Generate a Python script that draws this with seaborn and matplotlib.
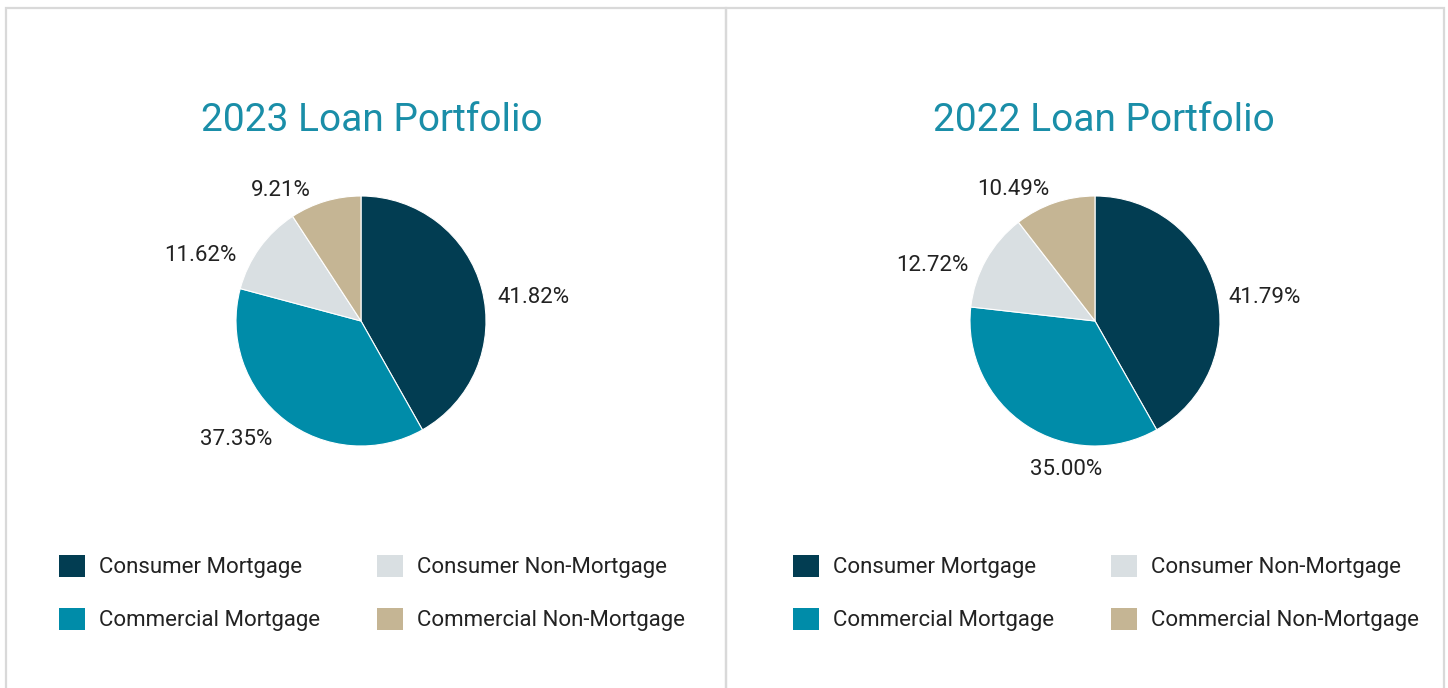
import matplotlib
matplotlib.use("Agg")
import matplotlib.pyplot as plt
import seaborn as sns
from matplotlib.patches import Rectangle, Patch

categories = ["Consumer Mortgage", "Commercial Mortgage", "Consumer Non-Mortgage", "Commercial Non-Mortgage"]
values_2023 = [41.82, 37.35, 11.62, 9.21]
values_2022 = [41.79, 35.00, 12.72, 10.49]
titles = ["2023 Loan Portfolio", "2022 Loan Portfolio"]
colors = ["#023d52", "#008ca9", "#d9dfe2", "#c5b594"]

# label placement (in pie-radius units, relative to pie centre) - layout only
label_pos_2023 = [(1.376, 0.186), (-1.0, -0.95), (-1.288, 0.526), (-0.64, 1.046)]
label_pos_2022 = [(1.36, 0.186), (-0.232, -1.19), (-1.304, 0.446), (-0.656, 1.054)]

sns.set_theme(style="white")
plt.rcParams["font.family"] = ["Roboto", "DejaVu Sans"]

W, H = 1448, 688
fig = plt.figure(figsize=(W / 100, H / 100), dpi=100)
fig.patch.set_facecolor("white")

def px_rect(x0, y0, w, h):
    return [x0 / W, 1 - (y0 + h) / H, w / W, h / H]

# panel borders
top = 1 - 8 / H
for x0, x1 in [(6, 726), (726, 1444)]:
    fig.add_artist(Rectangle((x0 / W, -0.05), (x1 - x0) / W, top + 0.05,
                             transform=fig.transFigure, fill=False,
                             edgecolor="#d9d9d9", linewidth=1.6))

panels = [(361, 372, 372, values_2023, label_pos_2023),
          (1095, 1104, 1106, values_2022, label_pos_2022)]
R = 125
for (cx, tx, lx, vals, lpos), title in zip(panels, titles):
    size = 440
    ax = fig.add_axes(px_rect(cx - size / 2, 321 - size / 2, size, size))
    lim = size / 2 / R
    wedges, texts, autotexts = ax.pie(
        vals, colors=colors, startangle=90, counterclock=False,
        autopct="%.2f%%", pctdistance=1.37, radius=1,
        wedgeprops=dict(linewidth=0.8, edgecolor="white"),
        textprops=dict(fontsize=16, color="#222222"))
    for t, p in zip(autotexts, lpos):
        t.set_position(p)
    ax.set_xlim(-lim, lim)
    ax.set_ylim(-lim, lim)
    ax.set_aspect("equal")
    ax.axis("off")
    fig.text(tx / W, 1 - 131 / H, title, ha="center", va="baseline",
             fontsize=28, color="#1a8ea8")
    handles = [Patch(facecolor=c, edgecolor="none") for c in colors]
    fig.legend(handles, categories, ncol=2, frameon=False,
               loc="center", bbox_to_anchor=(lx / W, 1 - 593 / H),
               fontsize=16, handlelength=1.13, handleheight=1.13,
               handletextpad=0.63, columnspacing=2.6, labelspacing=1.33,
               labelcolor="#222222")

fig.savefig("out.png", dpi=100, facecolor="white")
